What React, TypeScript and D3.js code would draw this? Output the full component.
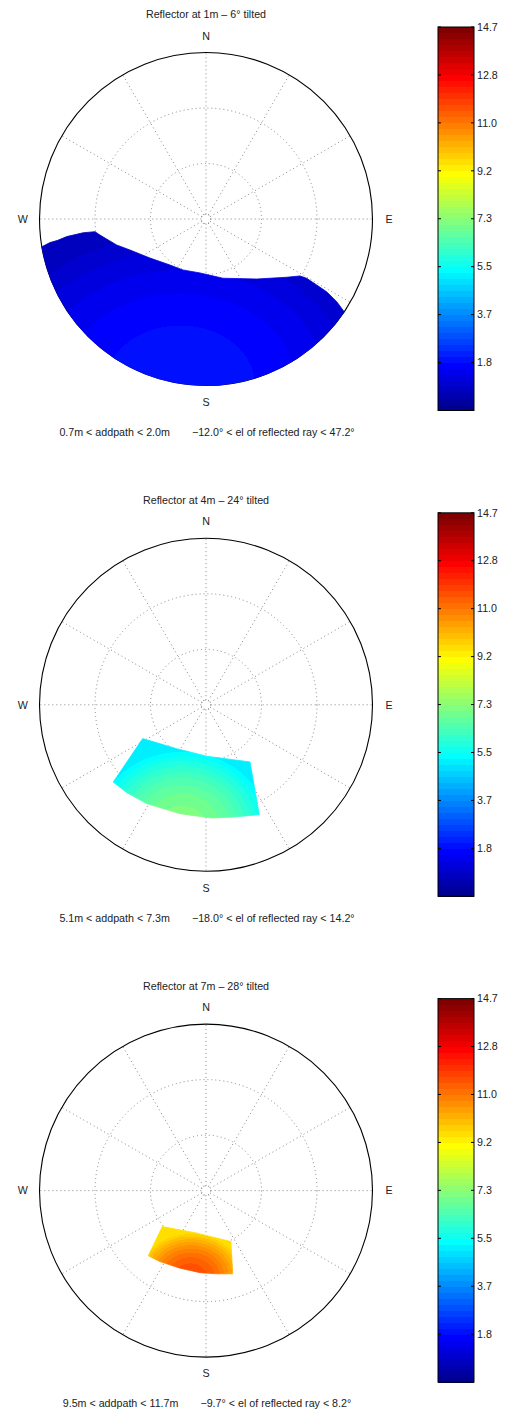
import React from "react";
import * as d3 from "d3";

// ---------- data ----------
const titles = [
  "Reflector at 1m \u2013 6\u00b0 tilted",
  "Reflector at 4m \u2013 24\u00b0 tilted",
  "Reflector at 7m \u2013 28\u00b0 tilted",
];
const addpathMin = [0.7, 5.1, 9.5];
const addpathMax = [2.0, 7.3, 11.7];
const elMin = [-12.0, -18.0, -9.7];
const elMax = [47.2, 14.2, 8.2];

const colorMin = 0;
const colorMax = 14.7;
const colorLevels = 64;
const colorTickValues = [1.8375, 3.675, 5.5125, 7.35, 9.1875, 11.025, 12.8625, 14.7];
const colorTickLabels = ["1.8", "3.7", "5.5", "7.3", "9.2", "11.0", "12.8", "14.7"];

const compassLabels = ["N", "E", "S", "W"];
const compassAz = [0, 90, 180, 270];
const spokeAz = [0, 30, 60, 90, 120, 150, 180, 210, 240, 270, 300, 330];
const ringR = [0.028, 1 / 3, 2 / 3];

// region of reflected rays: azimuth (deg, clockwise from N) & normalized radius
// panel 1: upper edge, closed along the outer circle
const region1Az = [260.4, 261.4, 261.8, 262.8, 263.6, 263.5, 261.4, 253.8, 247.8, 235.1, 218.1, 204.3, 186.3, 164, 139.8, 125.8, 121.2, 120.5, 120.8, 121.1, 122.3, 123.9];
const region1R = [1.0, 0.948, 0.9, 0.843, 0.743, 0.671, 0.644, 0.559, 0.493, 0.41, 0.351, 0.336, 0.326, 0.37, 0.472, 0.598, 0.66, 0.702, 0.774, 0.846, 0.929, 1.0];
// panel 2
const region2Az = [241.9, 213.8, 179.2, 142.4, 150.2, 154.1, 166.3, 177.1, 193.4, 211, 222, 230.2];
const region2R = [0.431, 0.317, 0.309, 0.433, 0.592, 0.733, 0.694, 0.681, 0.672, 0.692, 0.71, 0.725];
// panel 3
const region3Az = [230.5, 193.3, 153.9, 162.2, 172.7, 184.2, 198.5, 212.9, 221.5];
const region3R = [0.34, 0.261, 0.341, 0.525, 0.504, 0.494, 0.491, 0.508, 0.523];

// location of the longest additional path (field peak) and its spread
const fieldAz = [188.9, 191, 190];
const fieldR = [1.0, 0.756, 0.53];
const fieldSx = [1.26, 0.54, 0.32];
const fieldSy = [0.985, 0.48, 0.27];

// ---------- layout ----------
const W = 512;
const H = 1411;
const cx = 206;
const cy0 = 219;
const gap = 485.8;
const R = 166.5;
const cbX = 438;
const cbW = 36;
const cbTop = -192;
const cbBot = 191.5;
const FONT = "'Liberation Sans', Arial, Helvetica, sans-serif";
const FS = 10.7;

function jet(k: number): string {
  let r = 0, g = 0, b = 0;
  if (k <= 8) b = 0.5 + k / 16;
  else if (k <= 24) { b = 1; g = (k - 8) / 16; }
  else if (k <= 40) { r = (k - 24) / 16; g = 1; b = 1 - (k - 24) / 16; }
  else if (k <= 56) { r = 1; g = 1 - (k - 40) / 16; }
  else r = 1 - (k - 56) / 16;
  return d3.rgb(r * 255, g * 255, b * 255).formatHex();
}

function levelOf(v: number) {
  return Math.max(1, Math.min(colorLevels, Math.floor(((v - colorMin) / (colorMax - colorMin)) * colorLevels) + 1));
}

function fieldStops(vmin: number, vmax: number) {
  const stops: { offset: number; color: string }[] = [];
  const kHi = levelOf(vmax);
  const kLo = levelOf(vmin);
  const off = (v: number) => Math.sqrt(Math.max(0, (vmax - v) / (vmax - vmin)));
  for (let k = kHi; k >= kLo; k--) {
    const hi = Math.min(vmax, colorMin + (k / colorLevels) * (colorMax - colorMin));
    const lo = Math.max(vmin, colorMin + ((k - 1) / colorLevels) * (colorMax - colorMin));
    stops.push({ offset: off(hi), color: jet(k) });
    stops.push({ offset: off(lo), color: jet(k) });
  }
  return stops;
}

const regionsAz = [region1Az, region2Az, region3Az];
const regionsR = [region1R, region2R, region3R];

const rScale = d3.scaleLinear().domain([0, 1]).range([0, R]);
const rad = (deg: number) => (deg * Math.PI) / 180;
const polarXY = (az: number, r: number): [number, number] => [
  rScale(r) * Math.sin(rad(az)),
  -rScale(r) * Math.cos(rad(az)),
];
const f1 = d3.format(".1f");

function Panel({ i }: { i: number }) {
  const cy = cy0 + gap * i;
  const pts = regionsAz[i].map((a, j) => ({ az: a, r: regionsR[i][j] }));
  let regionPath: string;
  if (i === 0) {
    const line = d3
      .lineRadial<{ az: number; r: number }>()
      .angle((d) => rad(d.az))
      .radius((d) => rScale(d.r));
    const [x0, y0] = polarXY(pts[0].az, pts[0].r);
    regionPath = (line(pts) as string) + ` A ${R} ${R} 0 0 1 ${x0} ${y0} Z`;
  } else {
    regionPath = d3
      .lineRadial<{ az: number; r: number }>()
      .angle((d) => rad(d.az))
      .radius((d) => rScale(d.r))
      .curve(d3.curveLinearClosed)(pts) as string;
  }
  const [px, py] = polarXY(fieldAz[i], fieldR[i]);
  const stops = fieldStops(addpathMin[i], addpathMax[i]);
  const gid = `field${i}`;

  const yC = d3.scaleLinear().domain([colorMin, colorMax]).range([cy + cbBot, cy + cbTop]);
  const bands = d3.range(1, colorLevels + 1);

  return (
    <g>
      <defs>
        <radialGradient
          id={gid}
          gradientUnits="userSpaceOnUse"
          cx={0}
          cy={0}
          r={1}
          gradientTransform={`translate(${px},${py}) scale(${fieldSx[i] * R},${fieldSy[i] * R})`}
        >
          {stops.map((s, j) => (
            <stop key={j} offset={s.offset} stopColor={s.color} />
          ))}
        </radialGradient>
      </defs>
      <text x={cx} y={cy - 204.5} dy="0.35em" textAnchor="middle" fontSize={FS} fontFamily={FONT} fill="#222">
        {titles[i]}
      </text>
      <g transform={`translate(${cx},${cy})`}>
        {ringR.map((r, j) => (
          <circle key={j} r={rScale(r)} fill="none" stroke="#7a7a7a" strokeWidth={0.9} strokeDasharray="1,3" />
        ))}
        {spokeAz.map((a) => {
          const [x1, y1] = polarXY(a, ringR[0]);
          const [x2, y2] = polarXY(a, 1);
          return (
            <line key={a} x1={x1} y1={y1} x2={x2} y2={y2} stroke="#7a7a7a" strokeWidth={0.9} strokeDasharray="1,3" />
          );
        })}
        <circle r={R} fill="none" stroke="#000" strokeWidth={1.1} />
        <path d={regionPath} fill={`url(#${gid})`} stroke={`url(#${gid})`} strokeWidth={0.8} />
        {compassLabels.map((lab, j) => {
          const [x, y] = polarXY(compassAz[j], 1.1);
          return (
            <text key={lab} x={x} y={y} dy="0.35em" textAnchor="middle" fontSize={FS} fontFamily={FONT} fill="#222">
              {lab}
            </text>
          );
        })}
      </g>
      <text x={cx + 1} y={cy + 213} dy="0.35em" textAnchor="middle" fontSize={FS} fontFamily={FONT} fill="#222">
        <tspan>{`${f1(addpathMin[i])}m < addpath < ${f1(addpathMax[i])}m`}</tspan>
        <tspan dx={22}>{`${f1(elMin[i])}\u00b0 < el of reflected ray < ${f1(elMax[i])}\u00b0`}</tspan>
      </text>
      {/* colorbar */}
      <g shapeRendering="crispEdges">
        {bands.map((k) => {
          const vLo = colorMin + ((k - 1) / colorLevels) * (colorMax - colorMin);
          const vHi = colorMin + (k / colorLevels) * (colorMax - colorMin);
          return (
            <rect
              key={k}
              x={cbX}
              y={yC(vHi)}
              width={cbW}
              height={yC(vLo) - yC(vHi) + 0.5}
              fill={jet(k)}
            />
          );
        })}
      </g>
      <rect x={cbX} y={yC(colorMax)} width={cbW} height={yC(colorMin) - yC(colorMax)} fill="none" stroke="#000" strokeWidth={1} />
      {colorTickValues.map((v, j) => (
        <g key={j}>
          <line x1={cbX} x2={cbX + 3} y1={yC(v)} y2={yC(v)} stroke="#000" strokeWidth={1} />
          <line x1={cbX + cbW - 3} x2={cbX + cbW} y1={yC(v)} y2={yC(v)} stroke="#000" strokeWidth={1} />
          <text x={cbX + cbW + 3} y={yC(v)} dy="0.35em" fontSize={FS} fontFamily={FONT} fill="#222">
            {colorTickLabels[j]}
          </text>
        </g>
      ))}
    </g>
  );
}

export default function App() {
  return (
    <svg
      width={W}
      height={H}
      viewBox={`0 0 ${W} ${H}`}
      style={{ position: "absolute", left: 0, top: 0, background: "#fff" }}
    >
      <rect width={W} height={H} fill="#fff" />
      {[0, 1, 2].map((i) => (
        <Panel key={i} i={i} />
      ))}
    </svg>
  );
}
